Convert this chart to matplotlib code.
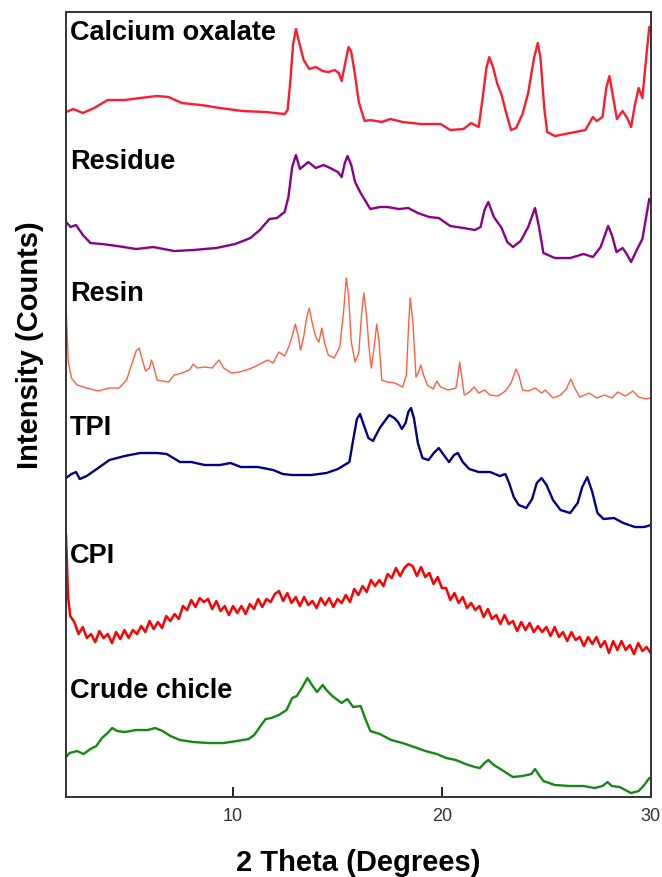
import matplotlib
matplotlib.use('Agg')
import matplotlib.pyplot as plt

plt.rcParams['font.family'] = ['Liberation Sans', 'DejaVu Sans']

# Difratogramas (2 theta, intensidade em u.a. ja empilhadas)
oxalato_x = [2.0, 2.35, 2.81, 3.35, 3.99, 4.81, 5.54, 6.36, 6.91, 7.55, 8.46, 9.37, 10.46, 11.56,
             12.47, 12.61, 12.74, 12.87, 13.01, 13.16, 13.38, 13.65, 13.96, 14.29, 14.56, 14.87,
             15.06, 15.2, 15.38, 15.53, 15.66, 15.84, 16.02, 16.3, 16.57, 17.12, 17.53, 18.12,
             19.03, 19.94, 20.4, 21.03, 21.4, 21.76, 21.95, 22.13, 22.27, 22.46, 22.64, 22.86,
             23.08, 23.31, 23.55, 23.86, 24.13, 24.41, 24.59, 24.72, 24.9, 25.04, 25.41, 26.14,
             26.87, 27.09, 27.23, 27.41, 27.69, 27.87, 28.02, 28.18, 28.38, 28.65, 28.87, 29.06,
             29.24, 29.42, 29.6, 29.78, 29.93, 30.0]
oxalato_y = [685, 688, 684, 689, 697, 697, 699, 701, 700, 694, 692, 689, 686, 685,
             683, 687, 715, 752, 768, 755, 737, 728, 730, 726, 725, 727,
             724, 716, 735, 750, 745, 722, 695, 676, 677, 675, 678, 675,
             673, 673, 667, 668, 674, 670, 699, 729, 740, 729, 714, 702,
             684, 667, 669, 683, 704, 739, 754, 739, 689, 665, 661, 664,
             667, 675, 680, 676, 680, 709, 721, 702, 678, 686, 679, 670,
             692, 709, 699, 739, 770, 770]

residuo_x = [2.0, 2.22, 2.48, 2.81, 3.17, 3.72, 4.45, 5.36, 6.18, 7.18, 8.09, 9.19, 10.1, 10.83,
             11.28, 11.74, 12.1, 12.47, 12.65, 12.83, 13.01, 13.2, 13.6, 13.96, 14.33, 14.65,
             15.02, 15.2, 15.35, 15.48, 15.66, 15.84, 16.11, 16.57, 17.03, 17.39, 17.94, 18.39,
             18.85, 19.39, 19.85, 20.4, 21.03, 21.58, 21.85, 22.04, 22.22, 22.49, 22.86, 23.13,
             23.4, 23.77, 24.13, 24.32, 24.46, 24.65, 24.86, 25.41, 26.14, 26.78, 27.23, 27.6,
             27.96, 28.14, 28.36, 28.65, 28.82, 29.06, 29.33, 29.6, 29.78, 29.93, 30.0]
residuo_y = [575, 570, 572, 562, 554, 553, 551, 548, 550, 546, 547, 549, 553, 559,
             567, 578, 579, 585, 600, 630, 642, 628, 635, 629, 632, 629,
             625, 620, 634, 641, 632, 615, 604, 588, 590, 590, 588, 589,
             584, 580, 579, 571, 569, 567, 570, 587, 595, 580, 569, 555,
             550, 556, 570, 581, 589, 570, 544, 539, 539, 543, 540, 550,
             571, 562, 545, 549, 544, 535, 547, 558, 580, 598, 597]

resina_x = [2.0, 2.04, 2.11, 2.26, 2.53, 2.99, 3.54, 4.08, 4.54, 4.9, 5.18, 5.36, 5.5, 5.63, 5.81,
            6.0, 6.09, 6.18, 6.36, 6.63, 6.91, 7.18, 7.55, 7.91, 8.09, 8.28, 8.64, 9.0, 9.19,
            9.33, 9.55, 9.92, 10.28, 10.64, 11.01, 11.37, 11.65, 11.92, 12.19, 12.47, 12.7,
            12.87, 12.98, 13.11, 13.23, 13.38, 13.52, 13.65, 13.78, 13.96, 14.11, 14.25, 14.38,
            14.56, 14.84, 15.11, 15.29, 15.42, 15.53, 15.66, 15.84, 16.02, 16.15, 16.26, 16.39,
            16.51, 16.62, 16.75, 16.88, 16.99, 17.12, 17.39, 17.75, 18.12, 18.3, 18.39, 18.48,
            18.61, 18.76, 18.88, 18.99, 19.12, 19.3, 19.58, 19.76, 19.94, 20.31, 20.67, 20.76,
            20.85, 20.96, 21.07, 21.31, 21.55, 21.76, 22.04, 22.31, 22.68, 23.04, 23.31, 23.55,
            23.68, 23.86, 24.13, 24.46, 24.77, 24.95, 25.32, 25.68, 25.96, 26.17, 26.36, 26.6,
            27.05, 27.41, 27.78, 28.14, 28.42, 28.78, 29.15, 29.42, 29.78, 30.0]
resina_y = [494, 472, 435, 419, 412, 409, 406, 409, 409, 417, 435, 446, 449, 439, 426,
            429, 437, 432, 417, 416, 415, 422, 424, 427, 433, 429, 430, 429, 434,
            437, 429, 424, 425, 427, 430, 434, 437, 434, 445, 441, 452,
            464, 473, 462, 447, 460, 479, 489, 475, 460, 455, 469, 454,
            442, 439, 450, 485, 519, 502, 455, 435, 444, 482, 504, 482,
            449, 429, 449, 473, 455, 417, 415, 414, 410, 422, 465, 499,
            475, 420, 425, 432, 422, 412, 408, 416, 410, 407, 409, 420,
            435, 419, 402, 405, 410, 404, 407, 402, 401, 406, 414, 428,
            422, 407, 406, 409, 404, 407, 399, 402, 408, 418, 409, 400,
            404, 399, 402, 399, 405, 401, 406, 400, 398, 399]

tpi_x = [2.0, 2.26, 2.48, 2.66, 2.99, 3.54, 4.08, 4.81, 5.54, 6.36, 6.82, 7.46, 8.0, 8.64, 9.37,
         9.88, 10.37, 11.19, 11.92, 12.38, 12.83, 13.74, 14.47, 15.02, 15.57, 15.75, 15.93,
         16.08, 16.26, 16.48, 16.7, 17.02, 17.3, 17.48, 17.72, 17.9, 18.08, 18.26, 18.39,
         18.52, 18.66, 18.85, 19.07, 19.36, 19.61, 19.85, 20.09, 20.34, 20.58, 20.76, 21.0,
         21.31, 21.76, 22.31, 22.77, 23.04, 23.22, 23.44, 23.68, 24.04, 24.32, 24.54, 24.77,
         25.01, 25.32, 25.68, 26.14, 26.5, 26.72, 26.96, 27.2, 27.45, 27.74, 28.24, 28.69,
         29.24, 29.69, 30.0]
tpi_y = [319, 323, 325, 318, 321, 329, 337, 341, 344, 344, 343, 335, 335, 332, 332,
         334, 330, 330, 327, 323, 322, 322, 324, 328, 335, 357, 378,
         383, 372, 359, 356, 369, 377, 382, 379, 375, 368, 374, 385,
         389, 379, 354, 339, 337, 344, 349, 342, 335, 342, 344, 335,
         328, 325, 325, 321, 323, 314, 300, 292, 289, 298, 314, 319,
         312, 297, 287, 284, 294, 310, 320, 305, 284, 278, 279, 274,
         270, 270, 272]

# CPI: sinal ruidoso, lido a cada 0,2 grau
cpi_x = [2.0, 2.1, 2.2, 2.4, 2.6, 2.8, 3.0, 3.2, 3.4, 3.6, 3.8, 4.0, 4.2, 4.4, 4.6, 4.8,
         5.0, 5.2, 5.4, 5.6, 5.8, 6.0, 6.2, 6.4, 6.6, 6.8, 7.0, 7.2, 7.4, 7.6, 7.8,
         8.0, 8.2, 8.4, 8.6, 8.8, 9.0, 9.2, 9.4, 9.6, 9.8, 10.0, 10.2, 10.4, 10.6, 10.8,
         11.0, 11.2, 11.4, 11.6, 11.8, 12.0, 12.2, 12.4, 12.6, 12.8, 13.0, 13.2, 13.4, 13.6, 13.8,
         14.0, 14.2, 14.4, 14.6, 14.8, 15.0, 15.2, 15.4, 15.6, 15.8, 16.0, 16.2, 16.4, 16.6, 16.8,
         17.0, 17.2, 17.4, 17.6, 17.8, 18.0, 18.2, 18.4, 18.6, 18.8, 19.0, 19.2, 19.4, 19.6, 19.8,
         20.0, 20.2, 20.4, 20.6, 20.8, 21.0, 21.2, 21.4, 21.6, 21.8, 22.0, 22.2, 22.4, 22.6, 22.8,
         23.0, 23.2, 23.4, 23.6, 23.8, 24.0, 24.2, 24.4, 24.6, 24.8, 25.0, 25.2, 25.4, 25.6, 25.8,
         26.0, 26.2, 26.4, 26.6, 26.8, 27.0, 27.2, 27.4, 27.6, 27.8, 28.0, 28.2, 28.4, 28.6, 28.8,
         29.0, 29.2, 29.4, 29.6, 29.8, 30.0]
cpi_y = [262, 200, 181, 175, 163, 170, 159, 163, 155, 166, 159, 163, 154, 165, 158, 167,
         159, 167, 163, 171, 165, 176, 168, 175, 169, 181, 176, 183, 178, 191, 187,
         197, 190, 199, 195, 198, 188, 196, 186, 191, 182, 191, 184, 191, 183, 193,
         188, 198, 190, 198, 195, 203, 206, 196, 204, 194, 200, 191, 200, 192, 196,
         189, 199, 192, 199, 190, 198, 194, 202, 195, 208, 202, 211, 205, 217, 211,
         217, 211, 223, 219, 229, 221, 229, 233, 231, 221, 230, 220, 224, 213, 220,
         209, 209, 197, 204, 194, 200, 189, 194, 187, 191, 180, 188, 178, 182, 173,
         182, 173, 176, 166, 175, 167, 174, 165, 171, 165, 170, 161, 170, 160, 165,
         156, 165, 157, 160, 151, 160, 153, 160, 150, 156, 144, 156, 147, 156, 147,
         152, 143, 154, 146, 150, 144]

bruto_x = [2.0, 2.17, 2.53, 2.84, 3.17, 3.45, 3.72, 3.99, 4.21, 4.45, 4.81, 5.36, 5.91, 6.27, 6.63,
           7.0, 7.46, 8.09, 8.82, 9.55, 10.19, 10.74, 11.01, 11.28, 11.56, 11.83, 12.19, 12.56,
           12.83, 13.05, 13.29, 13.56, 13.78, 14.02, 14.29, 14.47, 14.75, 15.2, 15.47, 15.75,
           16.11, 16.3, 16.57, 17.03, 17.57, 18.12, 18.67, 19.21, 19.76, 20.21, 20.67, 21.13,
           21.58, 21.82, 22.04, 22.22, 22.49, 22.95, 23.4, 23.86, 24.28, 24.46, 24.65, 24.86,
           25.41, 26.14, 26.78, 27.32, 27.69, 27.93, 28.14, 28.51, 28.78, 29.06, 29.42, 29.69,
           29.93, 30.0]
bruto_y = [40, 44, 46, 43, 48, 51, 59, 64, 69, 66, 65, 67, 67, 69, 66,
           61, 57, 55, 54, 54, 56, 58, 62, 70, 78, 79, 82, 87,
           99, 101, 109, 119, 112, 105, 112, 107, 101, 94, 98, 90,
           91, 80, 66, 63, 57, 54, 50, 46, 43, 39, 37, 33,
           30, 29, 34, 37, 32, 26, 20, 21, 23, 28, 22, 16,
           12, 11, 11, 9, 11, 15, 11, 10, 7, 4, 6, 12,
           19, 18]

nomes = ['Calcium oxalate', 'Residue', 'Resin', 'TPI', 'CPI', 'Crude chicle']
cores = ['#ff1a2e', '#8b008b', '#ff6040', '#00008b', '#ff0000', '#138a13']
larguras = [1.7, 1.7, 1.0, 1.7, 1.8, 1.7]
series = [(oxalato_x, oxalato_y), (residuo_x, residuo_y), (resina_x, resina_y),
          (tpi_x, tpi_y), (cpi_x, cpi_y), (bruto_x, bruto_y)]
pos_rotulos = [764, 635, 503, 369, 241, 106]

fig = plt.figure(figsize=(6.62, 8.77), dpi=100)
ax = fig.add_axes([0.0997, 0.0912, 0.8833, 0.8951])

for (x, y), cor, lw in zip(series, cores, larguras):
    ax.plot(x, y, color=cor, linewidth=lw)

for nome, ypos in zip(nomes, pos_rotulos):
    ax.text(2.2, ypos, nome, fontsize=19.5, fontweight='bold', va='center', ha='left')

ax.set_xlim(2, 30)
ax.set_ylim(0, 785)
ax.set_xticks([10, 20, 30])
ax.set_yticks([])
ax.tick_params(axis='x', direction='in', length=7, width=1.2, labelsize=13,
               labelcolor='#333333', pad=8)
for sp in ax.spines.values():
    sp.set_linewidth(1.4)
    sp.set_color('#333333')

ax.set_xlabel('2 Theta (Degrees)', fontsize=21, fontweight='bold', labelpad=17)
ax.set_ylabel('Intensity (Counts)', fontsize=21, fontweight='bold')
ax.yaxis.set_label_coords(-0.038, 0.576)

fig.savefig('out.png', dpi=100)
